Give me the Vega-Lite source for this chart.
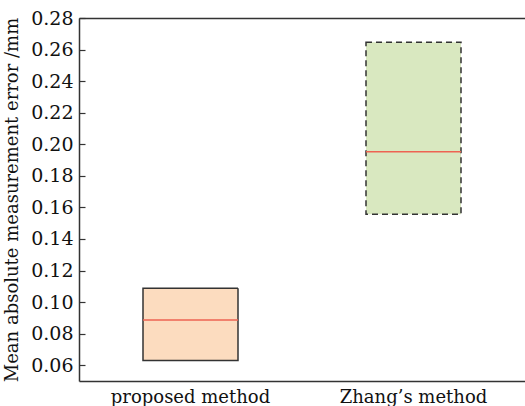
{
  "$schema": "https://vega.github.io/schema/vega-lite/v6.json",
  "width": 446,
  "height": 363,
  "autosize": "none",
  "padding": {"left": 79, "top": 18, "right": 0, "bottom": 25},
  "background": "white",
  "config": {
    "view": {"stroke": null},
    "font": "DejaVu Serif",
    "axis": {
      "domainColor": "#333333",
      "domainWidth": 1.5,
      "tickColor": "#333333",
      "tickWidth": 1.2,
      "labelColor": "#111111",
      "titleColor": "#111111",
      "labelFont": "DejaVu Serif",
      "titleFont": "DejaVu Serif",
      "grid": false
    },
    "axisY": {
      "titleFontSize": 18,
      "titleFontWeight": "normal",
      "titlePadding": 9,
      "labelFontSize": 19,
      "labelOverlap": false,
      "tickCount": 12,
      "format": ".2f",
      "tickSize": -6,
      "labelPadding": 12
    }
  },
  "data": {
    "values": [
      {"method": "proposed method", "q1": 0.063, "q3": 0.1087, "median": 0.0886},
      {"method": "Zhang’s method", "q1": 0.1556, "q3": 0.2646, "median": 0.1952}
    ]
  },
  "resolve": {"axis": {"x": "independent"}},
  "layer": [
    {
      "mark": {"type": "bar", "size": 95, "stroke": "#333333", "strokeWidth": 1.5},
      "encoding": {
        "x": {
          "field": "method",
          "type": "nominal",
          "sort": null,
          "scale": {"paddingInner": 0, "paddingOuter": 0},
          "axis": {
            "orient": "bottom",
            "title": null,
            "labelAngle": 0,
            "labelFontSize": 18,
            "ticks": false,
            "labelPadding": 7
          }
        },
        "y": {
          "field": "q1",
          "type": "quantitative",
          "scale": {"domain": [0.05, 0.28], "nice": false, "zero": false},
          "title": "Mean absolute measurement error /mm"
        },
        "y2": {"field": "q3"},
        "fill": {
          "field": "method",
          "type": "nominal",
          "scale": {"domain": ["proposed method", "Zhang’s method"], "range": ["#fcdcbf", "#d9e8c0"]},
          "legend": null
        },
        "fillOpacity": {"value": 1},
        "strokeDash": {
          "field": "method",
          "type": "nominal",
          "scale": {"domain": ["proposed method", "Zhang’s method"], "range": [[1, 0], [6, 4]]},
          "legend": null
        }
      }
    },
    {
      "mark": {"type": "tick", "color": "#ee6352", "size": 95, "thickness": 1.5, "opacity": 1},
      "encoding": {
        "x": {
          "field": "method",
          "type": "nominal",
          "sort": null,
          "axis": {
            "orient": "top",
            "title": null,
            "labels": false,
            "ticks": false,
            "domain": true
          }
        },
        "y": {"field": "median", "type": "quantitative", "title": "Mean absolute measurement error /mm"}
      }
    }
  ]
}
